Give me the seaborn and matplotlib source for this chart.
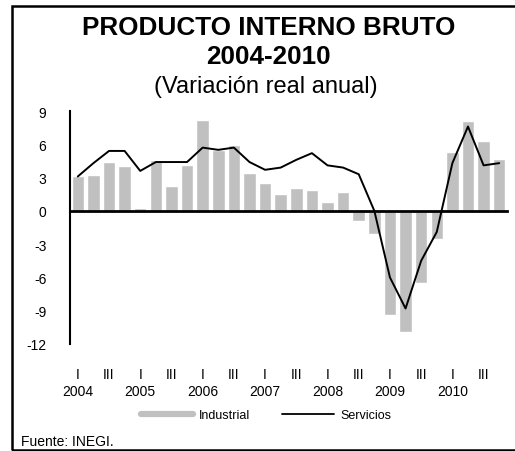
import pandas as pd
import seaborn as sns
import matplotlib.pyplot as plt
from matplotlib.lines import Line2D
from matplotlib.patches import Rectangle
from matplotlib.transforms import blended_transform_factory

# Datos (variacion real anual, %)
years = [2004, 2005, 2006, 2007, 2008, 2009, 2010]
quarter_labels = ["I", "II", "III", "IV"]
industrial = [3.1, 3.2, 4.4, 4.0, 0.3, 4.6, 2.2, 4.1, 8.2, 5.5, 5.9, 3.4, 2.5, 1.5,
              2.1, 1.9, 0.8, 1.7, -0.9, -2.1, -9.4, -10.9, -6.5, -2.5, 5.3, 8.1, 6.3, 4.7]
servicios = [3.1, 4.3, 5.4, 5.4, 3.6, 4.4, 4.4, 4.4, 5.7, 5.5, 5.7, 4.4, 3.7, 3.9,
             4.6, 5.2, 4.1, 3.9, 3.3, 0.0, -6.0, -8.8, -4.5, -1.9, 4.3, 7.6, 4.1, 4.3]

periodos = [f"{y}-{q}" for y in years for q in quarter_labels]
df = pd.DataFrame({"periodo": periodos, "Industrial": industrial, "Servicios": servicios})
df["pos"] = range(len(df))

sns.set_style("white")
plt.rcParams['font.family'] = ['Liberation Sans', 'DejaVu Sans']
plt.rcParams['axes.unicode_minus'] = False
plt.rcParams['text.color'] = 'black'
plt.rcParams['ytick.color'] = 'black'
plt.rcParams['xtick.color'] = 'black'

fig = plt.figure(figsize=(5.15, 4.52), dpi=100)
ax = fig.add_axes([70 / 515, 1 - 345 / 452, 437 / 515, 233 / 452])

sns.barplot(data=df, x="pos", y="Industrial", color="#c0c0c0", saturation=1,
            width=0.8, ax=ax)
sns.lineplot(data=df, x="pos", y="Servicios", color="black", lw=1.4, ax=ax)

ax.set_xlim(-0.5, len(df) - 0.5)
ax.set_ylim(-12, 9)
ax.set_yticks(range(-12, 10, 3))
ax.set_xticks([i - 0.5 for i in range(0, len(df) + 1, 2)])
ax.set_xticklabels([])
ax.set_xlabel("")
ax.set_ylabel("")

for s in ["top", "right"]:
    ax.spines[s].set_visible(False)
ax.spines["bottom"].set_position(("data", 0))
ax.spines["bottom"].set_linewidth(2)
ax.spines["left"].set_linewidth(1.5)
ax.spines["bottom"].set_color("black")
ax.spines["left"].set_color("black")
ax.tick_params(axis="both", direction="out", length=5, width=1.5, color="black")
ax.tick_params(axis="y", labelsize=10, pad=12, labelcolor="black")

# etiquetas de trimestre y año
trans = blended_transform_factory(ax.transData, fig.transFigure)
for k, y in enumerate(years):
    ax.text(4 * k, 1 - 375 / 452, "I", ha="center", va="center", fontsize=10, transform=trans)
    ax.text(4 * k + 2, 1 - 375 / 452, "III", ha="center", va="center", fontsize=10, transform=trans)
    ax.text(4 * k, 1 - 392 / 452, str(y), ha="center", va="center", fontsize=10, transform=trans)

# leyenda
handles = [Line2D([], [], color="#c0c0c0", lw=4.5), Line2D([], [], color="black", lw=1.3)]
fig.legend(handles=handles, labels=["Industrial", "Servicios"], loc="center",
           bbox_to_anchor=(266 / 515, 1 - 416 / 452), ncol=2, frameon=False, fontsize=9,
           handlelength=4.2, handletextpad=0.5, columnspacing=2.5)

# titulos
fig.text(269 / 515, 1 - 28 / 452, "PRODUCTO INTERNO BRUTO", ha="center", va="center",
         fontsize=18.8, fontweight="bold")
fig.text(268 / 515, 1 - 57 / 452, "2004-2010", ha="center", va="center",
         fontsize=18.8, fontweight="bold")
fig.text(266 / 515, 1 - 87 / 452, "(Variación real anual)", ha="center", va="center",
         fontsize=17)
fig.text(21 / 515, 1 - 442 / 452, "Fuente: INEGI.", ha="left", va="center", fontsize=10)

# marco
fig.add_artist(Rectangle((12 / 515, 1 - 451 / 452), 520 / 515, 444 / 452,
                         transform=fig.transFigure, fill=False, lw=1.8, ec="black"))

fig.savefig("out.png", dpi=100)
